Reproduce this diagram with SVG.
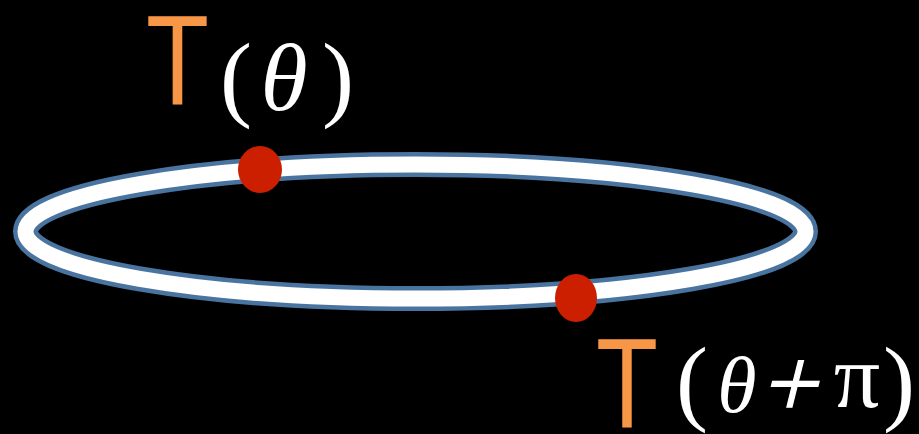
<svg xmlns="http://www.w3.org/2000/svg" width="919" height="434" viewBox="0 0 919 434">
  <style>
    .tee { font-family: "Liberation Sans", "DejaVu Sans", sans-serif; font-size: 128px; fill: #F79646; }
    .math { font-family: "Liberation Serif", "DejaVu Serif", serif; font-size: 96px; fill: #FFFFFF; text-anchor: middle; }
    .ital { font-style: italic; }
    .dot { fill: #CC1F00; }
  </style>
  <rect x="0" y="0" width="919" height="434" fill="#000000"/>
  <g id="ring">
    <ellipse cx="415.5" cy="231.5" rx="390" ry="67" fill="none" stroke="#4A74A0" stroke-width="25"/>
    <ellipse cx="415.5" cy="231.5" rx="390" ry="67" fill="none" stroke="#FFFFFF" stroke-width="16"/>
  </g>
  <g id="dot1">
    <ellipse class="dot" cx="260" cy="169.5" rx="22" ry="23.5"/>
  </g>
  <g id="dot2">
    <ellipse class="dot" cx="576" cy="298" rx="21" ry="24"/>
  </g>
  <g id="label1">
    <text class="tee" x="146" y="104" textLength="63" lengthAdjust="spacingAndGlyphs">T</text>
    <text class="math" x="236" y="109">(</text>
    <text class="math ital" x="284" y="110">θ</text>
    <text class="math" x="338" y="109">)</text>
  </g>
  <g id="label2">
    <text class="tee" x="596" y="427" textLength="62" lengthAdjust="spacingAndGlyphs">T</text>
    <text class="math" x="692" y="413">(</text>
    <text class="math ital" x="737" y="412" style="font-size:80px">θ</text>
    <text class="math" x="0" y="0" style="font-size:100px;stroke:#FFFFFF;stroke-width:1.2" transform="translate(787,417) skewX(-14)">+</text>
    <text class="math" x="857" y="407" style="font-size:92px">π</text>
    <text class="math" x="899" y="413">)</text>
  </g>
</svg>
